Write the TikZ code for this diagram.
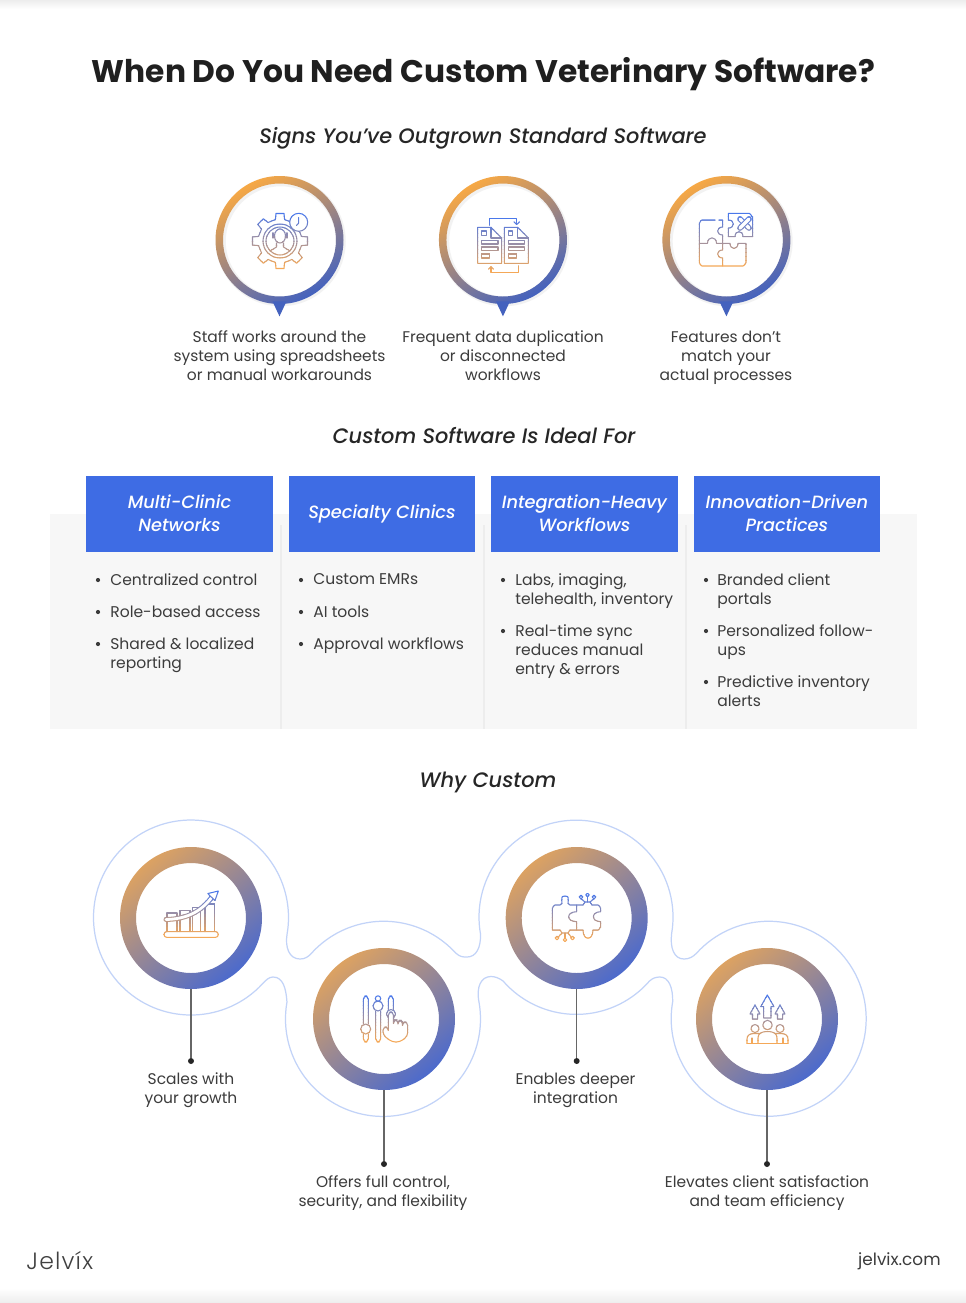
\documentclass[tikz,border=0pt]{standalone}
\usepackage{fontspec}
\setmainfont{Poppins}
\newfontfamily\headfont{Poppins Medium}[ItalicFont={Poppins Medium Italic}]
\newfontfamily\logofont{Poppins Light}[LetterSpace=5]
\usetikzlibrary{positioning}
\definecolor{bluehead}{HTML}{3E6CE4}
\definecolor{panelgrey}{HTML}{F7F7F7}
\definecolor{bodytext}{HTML}{3C3C3C}
\definecolor{outlineblue}{HTML}{C2D3F8}
\definecolor{iconblue}{HTML}{4A78EA}
\definecolor{iconorange}{HTML}{F4A858}
\definecolor{pintop}{HTML}{F6A845}
\definecolor{pinbot}{HTML}{4462BE}
\definecolor{whytop}{HTML}{DCA262}
\definecolor{whybot}{HTML}{4C6ACC}
\tikzset{
  title/.style={font=\fontsize{17.8}{22}\selectfont\bfseries, text=black!88},
  subhead/.style={font=\fontsize{11.9}{14}\selectfont\headfont\itshape, text=black!85},
  caption/.style={font=\fontsize{8.8}{10.8}\selectfont, text=bodytext, align=center, inner sep=0pt},
  itemtext/.style={font=\fontsize{8.85}{10.8}\selectfont, text=bodytext, align=left, anchor=north west, inner sep=0pt},
  hdbox/.style={rectangle, fill=bluehead, text=white, minimum width=3.73cm, minimum height=1.52cm, align=center, inner sep=0pt, font=\fontsize{10.1}{12.6}\selectfont\headfont\itshape},
  pinring/.style={circle, minimum size=2.56cm, inner sep=0pt},
  whyring/.style={circle, minimum size=2.84cm, inner sep=0pt},
  stem/.style={black!60, line width=0.7pt},
  dotmark/.style={circle, fill=black!85, minimum size=3.4pt, inner sep=0pt},
  iconline/.style={line width=0.6pt, line join=round, line cap=round}
}
% icon drawn band by band so that its stroke runs blue to orange
\newcommand{\gradicon}[3]{%
  \foreach \k in {0,...,13}{%
    \pgfmathsetmacro{\bandtop}{#1+(#2-#1)*\k/14}
    \pgfmathsetmacro{\bandbot}{#1+(#2-#1)*(\k+1)/14+0.1}
    \pgfmathsetmacro{\mixpct}{100*\k/13}
    \begin{scope}
      \clip (0,\bandtop) rectangle (966,\bandbot);
      \colorlet{iconcol}{iconorange!\mixpct!iconblue}
      \begin{scope}[iconline, draw=iconcol]
        #3
      \end{scope}
    \end{scope}
  }%
}
\newcommand{\pinshade}[1]{%
  \fill[black!5, even odd rule] ([shift={(.025cm,-.025cm)}]#1.center) circle (65) ([shift={(.025cm,-.025cm)}]#1.center) circle (55);
  \shade[even odd rule, top color=pintop, bottom color=pinbot, shading angle=30]
    (#1.center) circle (64) (#1.center) circle (56.5);
  \fill[pinbot] ([xshift=-.14cm,yshift=.06cm]#1.south) -- ([yshift=-.24cm]#1.south) -- ([xshift=.14cm,yshift=.06cm]#1.south) -- cycle;
}
\newcommand{\whyshade}[1]{%
  \shade[even odd rule, top color=whytop, bottom color=whybot, shading angle=40]
    (#1.center) circle (71) (#1.center) circle (55);
}
\begin{document}
\begin{tikzpicture}[x=0.02cm, y=-0.02cm]
  \useasboundingbox (0,0) rectangle (966,1303);
  \fill[white] (0,0) rectangle (966,1303);
  \shade[top color=black!7, bottom color=white] (0,0) rectangle (966,9);
  \shade[top color=white, bottom color=black!7] (0,1288) rectangle (966,1303);

  \node (maintitle) [title] at (483.5,74) {When Do You Need Custom Veterinary Software?};
  \node (signshead) [subhead] at (483,138) {Signs You’ve Outgrown Standard Software};
  \node (idealhead) [subhead] at (484,435.5) {Custom Software Is Ideal For};
  \node (whyhead) [subhead] at (488,782) {Why Custom};

  % signs row
  \node (pinstaff) [pinring] at (279.5,240) {};
  \node (pindata) [pinring, right of=pinstaff, node distance=4.47cm] {};
  \node (pinfit) [pinring, right of=pindata, node distance=4.47cm] {};
  \pinshade{pinstaff}
  \pinshade{pindata}
  \pinshade{pinfit}
  \node (capstaff) [caption] at (279.5,356) {Staff works around the\\system using spreadsheets\\or manual workarounds};
  \node (capdata) [caption] at (503,356) {Frequent data duplication\\or disconnected\\workflows};
  \node (capfit) [caption] at (726,358) {Features don’t\\match your\\actual processes};

  % gear icon
  \gradicon{212}{270}{
    \foreach \a in {0,45,...,315}
      \draw[rotate around={\a:(280,241)}] (275.4,219.5) -- (276,213.5) -- (284,213.5) -- (284.6,219.5) -- (291.95,222.55);
    \draw (280,241) circle (17) (280,241) circle (14);
    \draw (280,236) ellipse (5.5 and 7);
    \draw (273,233) -- (273,238) (287,233) -- (287,238);
    \draw (276.5,243) -- (276.5,247) -- (270,251) (283.5,243) -- (283.5,247) -- (290,251);
    \draw[fill=white] (298.7,222.3) circle (9);
    \draw (298.7,217.5) -- (298.7,223) -- (296.5,225.5);
  }
  % documents icon
  \gradicon{217}{274}{
    \foreach \d in {0,26.6}{
      \begin{scope}[xshift=\d*0.02cm]
        \draw (477.7,227.3) -- (491,227.3) -- (501.7,238) -- (501.7,263.3) -- (477.7,263.3) -- cycle;
        \draw (491,227.3) -- (491,238) -- (501.7,238);
        \draw (481.7,231) rectangle (486.2,235.5);
        \draw (481.7,240.7) rectangle (498,244);
        \draw (481.7,247) rectangle (498,250.5);
        \draw (481.7,254) rectangle (489.7,258);
      \end{scope}
    }
    \draw (489.3,225) -- (489.3,218.3) -- (516.7,218.3) -- (516.7,224);
    \draw (514,222) -- (516.7,224.5) -- (519.4,222);
    \draw (518.3,266) -- (518.3,272.3) -- (491,272.3) -- (491,267);
    \draw (488.5,269) -- (491,266.5) -- (493.5,269);
  }
  % puzzle icon
  \gradicon{212}{268}{
    \draw (715,220) -- (702,220) to[out=180,in=-90] (699.3,223) -- (699.3,263) to[out=90,in=180] (702,266) -- (743,266) to[out=0,in=90] (746,263) -- (746,243.3) -- (738,243.3) .. controls (738,250) and (730,250) .. (730,243.3) -- (722.7,243.3);
    \draw (719,220) -- (722.7,220) -- (722.7,227) .. controls (716,227) and (716,235) .. (722.7,235) -- (722.7,250) .. controls (716,250) and (716,258) .. (722.7,258) -- (722.7,266);
    \draw (699.3,243.3) -- (707.5,243.3) .. controls (707.5,236) and (716.5,236) .. (716.5,243.3) -- (722.7,243.3);
    \draw (728.3,213.3) -- (749,213.3) to[out=0,in=-90] (752.7,217) -- (752.7,236.7) -- (743,236.7) .. controls (743,230) and (735,230) .. (735,236.7) -- (728.3,236.7) -- (728.3,228) .. controls (735,228) and (735,220) .. (728.3,220) -- cycle;
    \draw[double=white, double distance=2pt] (740,219) -- (749,228);
    \draw[double=white, double distance=2pt] (749,219) -- (740,228);
  }

  % ideal for panel
  \fill[panelgrey] (50,514) rectangle (917,729);
  \draw[black!7, line width=0.6pt] (281,525) -- (281,729) (484,525) -- (484,729) (686,525) -- (686,729);
  \node (hdnet) [hdbox] at (179.5,514) {\raisebox{1pt}{Multi-Clinic}\\\raisebox{1pt}{Networks}};
  \node (hdspec) [hdbox, right of=hdnet, node distance=4.05cm] {Specialty Clinics};
  \node (hdint) [hdbox, right of=hdspec, node distance=4.05cm] {\raisebox{1pt}{Integration-Heavy}\\\raisebox{1pt}{Workflows}};
  \node (hdinn) [hdbox, right of=hdint, node distance=4.05cm] {\raisebox{1pt}{Innovation-Driven}\\\raisebox{1pt}{Practices}};

  \foreach \x/\y in {98/580,98/612,98/644,301/580,301/612,301/644,503/580,503/631,706/580,706/631,706/682}
    \fill[bodytext] (\x,\y) circle (2.1);
  \node (neta) [itemtext] at (110,573.5) {Centralized control};
  \node (netb) [itemtext] at (110,605.5) {Role-based access};
  \node (netc) [itemtext] at (110,637.5) {Shared \& localized\\reporting};
  \node (speca) [itemtext] at (313,573.5) {Custom EMRs};
  \node (specb) [itemtext] at (313,605.5) {AI tools};
  \node (specc) [itemtext] at (313,637.5) {Approval workflows};
  \node (inta) [itemtext] at (515,573.5) {Labs, imaging,\\telehealth, inventory};
  \node (intb) [itemtext] at (515,624.5) {Real-time sync\\reduces manual\\entry \& errors};
  \node (inna) [itemtext] at (717,573.5) {Branded client\\portals};
  \node (innb) [itemtext] at (717,624.5) {Personalized follow-\\ups};
  \node (innc) [itemtext] at (717,675.5) {Predictive inventory\\alerts};

  % why custom chain
  \draw[outlineblue, line width=0.7pt]
    (262.3,984) arc[start angle=43, end angle=370, radius=97.5]
    .. controls (285,947) and (289,959) .. (300,959) .. controls (305,959) and (308,957) .. (311.7,953)
    arc[start angle=222.4, end angle=317.6, radius=97.5]
    .. controls (460,957) and (463,957) .. (467,957) .. controls (476,957) and (481,948) .. (480.5,934)
    arc[start angle=170, end angle=370, radius=97]
    .. controls (670,948) and (674,959) .. (684,959) .. controls (689,959) and (693,957) .. (696.7,953)
    arc[start angle=222.4, end angle=550, radius=97.5]
    .. controls (673,988) and (669,977) .. (660,977) .. controls (656,977) and (653,978) .. (649.5,981)
    arc[start angle=41, end angle=139, radius=97]
    .. controls (499,978) and (495,976.5) .. (491,976.5) .. controls (481,976.5) and (476,987) .. (479,1002)
    arc[start angle=-10, end angle=190, radius=97.5]
    .. controls (286,988) and (283,977) .. (273,977) .. controls (269,977) and (266,980) .. (262.3,984) -- cycle;

  \node (ringgrow) [whyring] at (191,918) {};
  \node (ringctrl) [whyring] at (384,1019) {};
  \node (ringint) [whyring] at (576.7,918) {};
  \node (ringsat) [whyring] at (767,1019) {};
  \whyshade{ringgrow}
  \whyshade{ringctrl}
  \whyshade{ringint}
  \whyshade{ringsat}

  \node (dotgrow) [dotmark] at (191,1061) {};
  \node (dotctrl) [dotmark] at (384,1164) {};
  \node (dotint) [dotmark] at (576.7,1061) {};
  \node (dotsat) [dotmark] at (767,1164) {};
  \draw[stem] (ringgrow.south) -- (dotgrow);
  \draw[stem] (ringctrl.south) -- (dotctrl);
  \draw[stem] (ringint.south) -- (dotint);
  \draw[stem] (ringsat.south) -- (dotsat);

  \node (capgrow) [caption] at (191,1090) {Scales with\\your growth};
  \node (capctrl) [caption] at (383,1193) {Offers full control,\\security, and flexibility};
  \node (capint) [caption] at (575.5,1090) {Enables deeper\\integration};
  \node (capsat) [caption] at (767,1193) {Elevates client satisfaction\\and team efficiency};

  % chart icon
  \gradicon{890}{938}{
    \draw (167,931.7) -- (167,913) -- (177,913) -- (177,931.7);
    \draw (180,931.7) -- (180,910.7) -- (190,910.7) -- (190,931.7);
    \draw (192.7,931.7) -- (192.7,907.7) -- (200.7,907.7) -- (200.7,931.7);
    \draw (205,931.7) -- (205,904) -- (214.3,904) -- (214.3,931.7);
    \draw[rounded corners=1.5pt] (164,931.7) rectangle (218.3,937.3);
    \draw[double=white, double distance=1.6pt] (166,919.5) .. controls (185,919) and (200,913) .. (212,897);
    \draw[fill=white] (218.3,891) -- (208,893.5) -- (210,896) -- (212.5,898) -- (215,900.5) -- cycle;
  }
  % sliders icon
  \gradicon{995}{1043}{
    \draw[rounded corners=2pt] (363.3,1024) -- (363.3,996) -- (368.3,996) -- (368.3,1024);
    \draw (365.7,1029) circle (5);
    \draw[rounded corners=2pt] (363.3,1034) -- (363.3,1042) -- (368.3,1042) -- (368.3,1034);
    \draw (378,998.5) circle (2.7);
    \draw (378,1006) circle (5);
    \draw[rounded corners=2pt] (375.7,1011) -- (375.7,1042) -- (380.7,1042) -- (380.7,1011);
    \draw[rounded corners=2pt] (388.3,1010) -- (388.3,996) -- (393.3,996) -- (393.3,1010);
    \draw (391,1014) circle (4.5);
    \draw[fill=white, rounded corners=2pt] (388.3,1028) -- (388.3,1012) -- (393.5,1012) -- (393.5,1024) -- (393.5,1020) -- (398,1020) -- (398,1025) -- (398,1020.5) -- (402.5,1020.5) -- (402.5,1025) -- (402.5,1022) -- (407.7,1022) -- (407.7,1036) -- (400,1042) -- (392,1042) -- (383,1035) -- (383,1027) -- (388.3,1027) -- cycle;
  }
  % linked puzzle icon
  \gradicon{893}{941}{
    \draw (552.3,930) -- (552.3,908) to[out=-90,in=180] (555,905) -- (560,905) .. controls (565,905) and (558,896) .. (565,896) .. controls (572,896) and (565,905) .. (570,905) -- (576.7,905) -- (576.7,911.7) .. controls (566,911.7) and (566,921.7) .. (576.7,921.7) -- (576.7,930) -- (570,930) (560,930) -- (552.3,930);
    \draw (576.7,905) -- (583,905) (592,905) -- (598,905) to[out=0,in=-90] (600.7,908) -- (600.7,911.7) .. controls (591,911.7) and (591,921.7) .. (600.7,921.7) -- (600.7,927) to[out=90,in=0] (598,930) -- (593,930) .. controls (593,941) and (583,941) .. (583,930) -- (576.7,930);
    \draw (583,905) -- (585,902) -- (590,902) -- (592,905);
    \draw (587.5,902) -- (587.5,896.5);
    \draw (587.5,894.8) circle (1.8) (581,897) circle (1.8) (594,897) circle (1.8);
    \draw (585,902) -- (581,898.8) (590,902) -- (594,898.8);
    \draw (560,930) -- (562,933) -- (568,933) -- (570,930);
    \draw (565,933) -- (565,938);
    \draw (565,939.8) circle (1.8) (557,938) circle (1.8) (572.5,938) circle (1.8);
    \draw (562,933) -- (558.5,936.8) (568,933) -- (571,936.8);
  }
  % team arrows icon
  \gradicon{994}{1044}{
    \draw (767.3,995) -- (774,1006.7) -- (771,1006.7) -- (771,1018) -- (763.7,1018) -- (763.7,1006.7) -- (760.7,1006.7) -- cycle;
    \draw (755,1005) -- (760,1014) -- (757.7,1014) -- (757.7,1019) -- (752.5,1019) -- (752.5,1014) -- (750,1014) -- cycle;
    \draw (780,1005) -- (785,1014) -- (782.7,1014) -- (782.7,1019) -- (777.5,1019) -- (777.5,1014) -- (775,1014) -- cycle;
    \draw (767.5,1025) circle (4.7) (755,1028.5) circle (4) (780,1028.5) circle (4);
    \draw (758,1043.3) -- (758,1038) .. controls (758,1033) and (762,1031.5) .. (767.5,1031.5) .. controls (773,1031.5) and (777,1033) .. (777,1038) -- (777,1043.3);
    \draw (747,1043.3) -- (747,1039) .. controls (747,1035) and (750,1033.5) .. (755,1033.5) -- (759.5,1033.5);
    \draw (788,1043.3) -- (788,1039) .. controls (788,1035) and (785,1033.5) .. (780,1033.5) -- (775.5,1033.5);
    \draw (747,1043.3) -- (788,1043.3);
    \draw (752,1043.3) -- (752,1038) (783,1043.3) -- (783,1038);
  }

  % footer
  \node (logo) [font=\fontsize{13.4}{16}\selectfont\logofont, text=black!75, anchor=west, inner sep=0pt] at (26,1261) {Jelvíx};
  \node (site) [font=\fontsize{9.6}{11}\selectfont, text=bodytext, anchor=east, inner sep=0pt] at (941,1261.5) {jelvix.com};
\end{tikzpicture}
\end{document}
